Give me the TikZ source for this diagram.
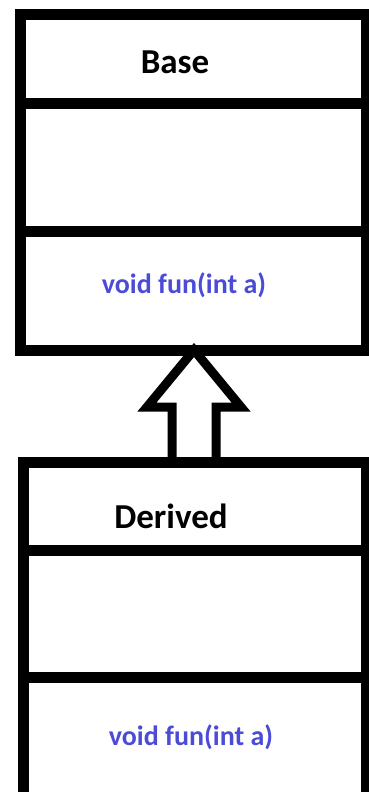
\documentclass[tikz,border=0pt]{standalone}
\usepackage{fontspec}
\setmainfont{Carlito}
\definecolor{funblue}{HTML}{4B4BD8}
\begin{document}
\begin{tikzpicture}[x=1pt, y=-1pt,
    classline/.style={line width=\rulew, line join=miter},
    classname/.style={font=\bfseries\fontsize{35}{38}\selectfont},
    method/.style={font=\bfseries\fontsize{28}{31}\selectfont, text=funblue}]
\newcommand\rulew{11pt}
\useasboundingbox (0,0) rectangle (369,792);
%Base..................
%   name / attributes / methods
\draw[classline] (20,15) rectangle (366,350);
\draw[classline] (20,103) -- (366,103); %under the name
\draw[classline] (20,231) -- (366,231); %over the methods
\node[classname] (base) at (175,62) {Base};
\node[method] (basefun) at (184,285) {void fun(int a)};
\coordinate (basebot) at (194,350);
%Derived...............
%   runs off the bottom of the page
\draw[classline] (23,800) -- (23,462) -- (366,462) -- (366,800);
\draw[classline] (23,550) -- (366,550);
\draw[classline] (23,677) -- (366,677);
\node[classname] (derived) at (171,516) {Derived};
\node[method] (derivedfun) at (191,737) {void fun(int a)};
\coordinate (derivedtop) at (194,462);
%hollow arrow, Derived -> Base
%     /\
%    /  \
%   /_  _\
%     ||
\draw[line width=9pt, line join=miter]
(derivedtop) ++(-22,0) -- ++(0,-55) -- ++(-25,0) -- %left wing
(basebot) -- ++(47,57) -- ++(-25,0) -- %right wing
++(0,55);
\end{tikzpicture}
\end{document}
